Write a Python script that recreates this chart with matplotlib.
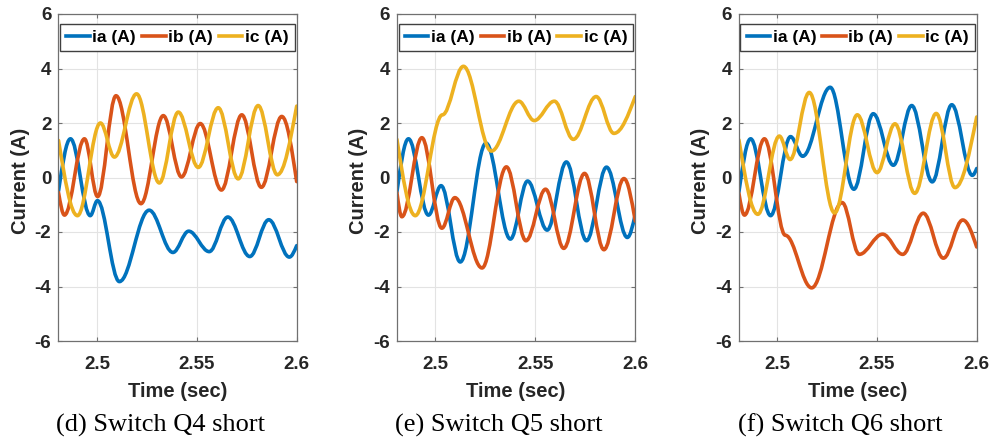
import matplotlib
matplotlib.use("Agg")
import matplotlib.pyplot as plt
from matplotlib.path import Path
from matplotlib.patches import PathPatch
from matplotlib.lines import Line2D

# ---- data: (time, current) turning points ----
# (d) Switch Q4 short
d_ia_t = [2.4807, 2.4867, 2.4966, 2.5002, 2.5112, 2.5261, 2.5380, 2.5459, 2.5562, 2.5655, 2.5765, 2.5860, 2.5963, 2.6]
d_ia_v = [-0.50, 1.42, -1.40, -0.85, -3.82, -1.20, -2.75, -1.97, -2.72, -1.45, -2.90, -1.55, -2.92, -2.50]
d_ib_t = [2.4807, 2.4837, 2.4937, 2.5003, 2.5095, 2.5220, 2.5332, 2.5423, 2.5517, 2.5623, 2.5725, 2.5823, 2.5925, 2.6]
d_ib_v = [-0.55, -1.38, 1.42, -0.70, 3.00, -0.96, 2.27, 0.02, 1.98, -0.46, 2.30, -0.36, 2.24, -0.15]
d_ic_t = [2.4807, 2.4902, 2.5017, 2.5087, 2.5198, 2.5312, 2.5407, 2.5507, 2.5607, 2.5707, 2.5807, 2.5903, 2.6]
d_ic_v = [1.36, -1.40, 2.00, 0.75, 3.07, -0.20, 2.40, 0.37, 2.56, -0.05, 2.64, 0.10, 2.62]

# (e) Switch Q5 short
e_ia_t = [2.4807, 2.4865, 2.4965, 2.5028, 2.5124, 2.5253, 2.5375, 2.5461, 2.5559, 2.5655, 2.5756, 2.5856, 2.5960, 2.6]
e_ia_v = [-0.53, 1.42, -1.38, -0.30, -3.10, 1.26, -2.26, -0.13, -1.93, 0.57, -2.32, 0.38, -2.20, -1.35]
e_ib_t = [2.4807, 2.4832, 2.4932, 2.5032, 2.5097, 2.5233, 2.5355, 2.5453, 2.5551, 2.5642, 2.5746, 2.5843, 2.5943, 2.6]
e_ib_v = [-0.55, -1.44, 1.46, -1.86, -0.74, -3.32, 0.39, -2.32, -0.43, -2.60, 0.15, -2.65, -0.04, -1.60]
e_ic_t = [2.4807, 2.4899, 2.5035, 2.5140, 2.5280, 2.5417, 2.5494, 2.5595, 2.5690, 2.5804, 2.5893, 2.6]
e_ic_v = [1.40, -1.40, 2.30, 4.08, 0.97, 2.80, 2.09, 2.80, 1.40, 2.97, 1.62, 2.97]

# (f) Switch Q6 short
f_ia_t = [2.4807, 2.4866, 2.4966, 2.5066, 2.5127, 2.5265, 2.5384, 2.5481, 2.5582, 2.5674, 2.5777, 2.5875, 2.5978, 2.6]
f_ia_v = [-0.53, 1.42, -1.40, 1.50, 0.78, 3.31, -0.43, 2.34, 0.45, 2.64, -0.16, 2.67, 0.08, 0.33]
f_ib_t = [2.4807, 2.4835, 2.4935, 2.5040, 2.5172, 2.5325, 2.5411, 2.5528, 2.5629, 2.5732, 2.5833, 2.5930, 2.6]
f_ib_v = [-0.58, -1.38, 1.42, -2.12, -4.05, -0.92, -2.82, -2.08, -2.82, -1.31, -2.96, -1.56, -2.55]
f_ic_t = [2.4807, 2.4902, 2.5010, 2.5064, 2.5160, 2.5287, 2.5401, 2.5500, 2.5590, 2.5689, 2.5797, 2.5891, 2.6]
f_ic_v = [1.38, -1.35, 1.52, 0.66, 3.12, -1.30, 2.30, 0.18, 1.97, -0.58, 2.35, -0.37, 2.22]

captions = ["(d) Switch Q4 short", "(e) Switch Q5 short", "(f) Switch Q6 short"]
labels = ["ia (A)", "ib (A)", "ic (A)"]
colors = ["#0072BD", "#D95319", "#EDB120"]
xticks = [2.5, 2.55, 2.6]
xticklabels = ["2.5", "2.55", "2.6"]
yticks = [-6, -4, -2, 0, 2, 4, 6]

panels = [
    [(d_ia_t, d_ia_v), (d_ib_t, d_ib_v), (d_ic_t, d_ic_v)],
    [(e_ia_t, e_ia_v), (e_ib_t, e_ib_v), (e_ic_t, e_ic_v)],
    [(f_ia_t, f_ia_v), (f_ib_t, f_ib_v), (f_ic_t, f_ic_v)],
]


def wave_path(ts, vs):
    # smooth curve through the turning points (flat tangent at each one)
    verts = [(ts[0], vs[0])]
    codes = [Path.MOVETO]
    n = len(ts)
    for i in range(n - 1):
        t0, v0, t1, v1 = ts[i], vs[i], ts[i + 1], vs[i + 1]
        d = t1 - t0
        if i == 0:
            c1 = (t0 + d / 3, v0 + 0.5 * (v1 - v0))
        else:
            c1 = (t0 + 0.363 * d, v0)
        if i == n - 2:
            c2 = (t1 - d / 3, v1 - 0.5 * (v1 - v0))
        else:
            c2 = (t1 - 0.363 * d, v1)
        verts += [c1, c2, (t1, v1)]
        codes += [Path.CURVE4] * 3
    return Path(verts, codes)


plt.rcParams['font.family'] = ['Liberation Sans', 'DejaVu Sans']
plt.rcParams['axes.unicode_minus'] = False

fig = plt.figure(figsize=(9.94, 4.46), dpi=100)
lefts = [58.3, 396.7, 738.7]
widths = [238.4, 238.6, 238.0]

for k in range(3):
    ax = fig.add_axes([lefts[k] / 994, 1 - 341 / 446, widths[k] / 994, 327 / 446])
    for (ts, vs), c in zip(panels[k], colors):
        ax.add_patch(PathPatch(wave_path(ts, vs), fill=False, edgecolor=c,
                               lw=2.6, capstyle='round', joinstyle='round'))
    ax.set_xlim(2.4806, 2.6)
    ax.set_ylim(-6, 6)
    ax.set_xticks(xticks)
    ax.set_xticklabels(xticklabels)
    ax.set_yticks(yticks)
    ax.grid(True, color='#e3e3e3', lw=0.8)
    ax.set_axisbelow(True)
    for s in ax.spines.values():
        s.set_color('#707070')
        s.set_linewidth(0.9)
    ax.tick_params(direction='in', length=3, color='#707070', labelsize=13.5,
                   top=True, right=True)
    ax.tick_params(axis='x', pad=11)
    ax.tick_params(axis='y', pad=5)
    for lab in ax.get_xticklabels() + ax.get_yticklabels():
        lab.set_fontweight('bold')
        lab.set_color('#262626')
    ax.set_xlabel("Time (sec)", fontsize=14.5, fontweight='bold', color='#262626')
    ax.set_ylabel("Current (A)", fontsize=14.5, fontweight='bold', color='#262626')
    ax.xaxis.set_label_coords(0.5, -0.125)
    ax.yaxis.set_label_coords(-0.12, 0.49)

    handles = [Line2D([], [], color=c, lw=2.6) for c in colors]
    leg = ax.legend(handles, labels, loc='upper center', bbox_to_anchor=(0.5, 0.97),
                    ncol=3, handlelength=1.35, handletextpad=0.15,
                    columnspacing=0.35, borderpad=0.35, borderaxespad=0,
                    fancybox=False, framealpha=1, edgecolor='#404040',
                    prop={'weight': 'bold', 'size': 12.5})
    leg.get_frame().set_linewidth(1.0)

    cx = (lefts[k] + widths[k] / 2 - 17) / 994
    fig.text(cx, 1 - 425 / 446, captions[k], ha='center', va='center',
             fontsize=19, family='Liberation Serif')

fig.savefig("out.png", dpi=100)
